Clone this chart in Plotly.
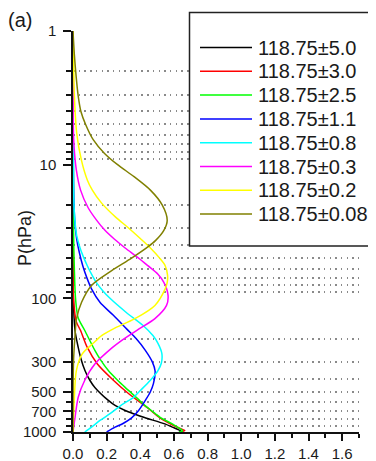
import plotly.graph_objects as go

# ---------------- data ----------------
labels = ["118.75±5.0", "118.75±3.0", "118.75±2.5", "118.75±1.1",
          "118.75±0.8", "118.75±0.3", "118.75±0.2", "118.75±0.08"]
colors = ["#000000", "#ff0000", "#00ff00", "#0000ff",
          "#00ffff", "#ff00ff", "#ffff00", "#808000"]

p_black = [1, 50, 100, 174, 233, 277, 347, 410, 464, 580, 632, 690, 730, 780, 870, 920, 960, 985, 1000]
w_black = [0, 0.0005, 0.002, 0.012, 0.031, 0.045, 0.071, 0.10, 0.13, 0.21, 0.25, 0.31, 0.36, 0.425, 0.546, 0.59, 0.625, 0.64, 0.63]

p_red = [1, 50, 100, 150, 174, 233, 310, 410, 522, 655, 780, 890, 945, 975, 1000]
w_red = [0, 0.0005, 0.003, 0.02, 0.045, 0.085, 0.145, 0.24, 0.335, 0.44, 0.515, 0.595, 0.64, 0.665, 0.635]

p_green = [1, 30, 60, 100, 139, 174, 245, 290, 347, 410, 464, 580, 615, 730, 780, 870, 920, 960, 985, 1000]
w_green = [0, 0.003, 0.008, 0.015, 0.03, 0.07, 0.13, 0.165, 0.21, 0.265, 0.31, 0.395, 0.415, 0.49, 0.52, 0.59, 0.62, 0.645, 0.65, 0.63]

p_blue = [1, 10, 20, 28, 36, 45, 57, 70, 85, 107, 134, 170, 200, 245, 300, 350, 435, 500, 580, 690, 780, 860, 920, 1000]
w_blue = [0, 0.002, 0.006, 0.012, 0.022, 0.037, 0.058, 0.082, 0.11, 0.16, 0.24, 0.32, 0.375, 0.43, 0.472, 0.488, 0.478, 0.46, 0.43, 0.39, 0.35, 0.30, 0.25, 0.20]

p_cyan = [1, 10, 18.5, 25, 34, 42, 50, 57, 66, 76, 88, 100, 127, 159, 190, 217, 258, 306, 347, 410, 490, 550, 632, 730, 820, 920, 1000]
w_cyan = [0, 0.002, 0.005, 0.01, 0.022, 0.042, 0.065, 0.085, 0.11, 0.138, 0.178, 0.22, 0.315, 0.415, 0.475, 0.505, 0.528, 0.525, 0.505, 0.46, 0.40, 0.36, 0.285, 0.22, 0.16, 0.11, 0.07]

p_magenta = [1, 3, 6.5, 11, 15.5, 21, 26, 31, 36, 42, 50, 57, 66, 76, 95, 113, 142, 170, 206, 233, 310, 410, 550, 780, 1000]
w_magenta = [0, 0.001, 0.004, 0.02, 0.045, 0.09, 0.14, 0.19, 0.245, 0.31, 0.39, 0.445, 0.505, 0.54, 0.565, 0.556, 0.487, 0.39, 0.29, 0.235, 0.13, 0.07, 0.031, 0.012, 0]

p_yellow = [1, 1.4, 3, 5.8, 9.25, 13, 15.5, 19.4, 24.8, 29.4, 35.7, 42, 50, 57, 67, 76, 85, 113, 142, 169, 190, 217, 260, 347, 553, 1000]
w_yellow = [0, 0.002, 0.008, 0.022, 0.05, 0.085, 0.115, 0.17, 0.255, 0.325, 0.40, 0.46, 0.515, 0.548, 0.562, 0.56, 0.548, 0.487, 0.368, 0.24, 0.17, 0.12, 0.055, 0.02, 0.008, 0]

p_olive = [1, 1.5, 2.14, 3, 4, 5, 6.5, 8.2, 10, 12.3, 15.5, 20, 26, 31, 37, 41, 50, 62, 80, 107, 142, 190, 300, 1000]
w_olive = [0, 0.008, 0.018, 0.03, 0.047, 0.075, 0.12, 0.186, 0.265, 0.363, 0.46, 0.53, 0.56, 0.54, 0.49, 0.447, 0.348, 0.23, 0.11, 0.051, 0.021, 0.012, 0.003, 0]

series_p = [p_black, p_red, p_green, p_blue, p_cyan, p_magenta, p_yellow, p_olive]
series_w = [w_black, w_red, w_green, w_blue, w_cyan, w_magenta, w_yellow, w_olive]

y_tickvals = [1, 10, 100, 300, 500, 700, 1000]
y_ticktext = ["1", "10", "100", "300", "500", "700", "1000"]
y_minorvals = [m * 10 ** k for k in range(3) for m in range(2, 10)]
x_tickvals = [0.0, 0.2, 0.4, 0.6, 0.8, 1.0, 1.2, 1.4, 1.6]

# ---------------- figure ----------------
# page body has an 8px margin: size the figure so it fills the 376x461 window
OFF = 8
W, H = 376 - OFF, 461 - OFF
PX0, PX1, PY0, PY1 = 73, 359, 31, 432       # plot area in window pixels
L, R, T, B = PX0 - OFF, W - (PX1 - OFF), PY0 - OFF, H - (PY1 - OFF)
pw, ph = PX1 - PX0, PY1 - PY0


def px_x(x):
    return (x - PX0) / pw


def px_y(y):
    return (PY1 - y) / ph


FONT = "Liberation Sans, Arial, sans-serif"
fig = go.Figure()
for p, w, name, c in zip(series_p, series_w, labels, colors):
    fig.add_trace(go.Scatter(x=w, y=p, mode="lines", name=name,
                             line=dict(color=c, width=1.5, shape="spline", smoothing=0.8),
                             showlegend=False))

shapes = []
annotations = []
# legend box (white, covers gridlines)
shapes.append(dict(type="rect", xref="paper", yref="paper",
                   x0=px_x(189.5), x1=px_x(384), y0=px_y(246), y1=px_y(12.5),
                   fillcolor="white", line=dict(color="#222222", width=1.5), layer="above"))
for i, (name, c) in enumerate(zip(labels, colors)):
    yy = 47.5 + i * 23.8
    shapes.append(dict(type="line", xref="paper", yref="paper",
                       x0=px_x(200), x1=px_x(252), y0=px_y(yy), y1=px_y(yy),
                       line=dict(color=c, width=1.5), layer="above"))
    annotations.append(dict(xref="paper", yref="paper", x=px_x(256), y=px_y(yy),
                            text=name, showarrow=False, xanchor="left", yanchor="middle",
                            font=dict(family=FONT, size=20, color="#1a1a1a")))

annotations.append(dict(xref="paper", yref="paper", x=px_x(6), y=px_y(20),
                        text="(a)", showarrow=False, xanchor="left", yanchor="middle",
                        font=dict(family=FONT, size=20, color="#1a1a1a")))
annotations.append(dict(xref="paper", yref="paper", x=px_x(24.5), y=px_y(238.5),
                        text="P(hPa)", showarrow=False, textangle=-90,
                        xanchor="center", yanchor="middle",
                        font=dict(family=FONT, size=18, color="#1a1a1a")))

fig.update_layout(
    width=W, height=H,
    margin=dict(l=L, r=R, t=T, b=B, pad=0, autoexpand=False),
    paper_bgcolor="white", plot_bgcolor="white",
    showlegend=False,
    shapes=shapes, annotations=annotations,
    font=dict(family=FONT, color="#1a1a1a"),
    xaxis=dict(range=[0, 1.7], tickmode="array", tickvals=x_tickvals,
               tickformat=".1f", ticks="outside", ticklen=7, tickwidth=1.5,
               tickcolor="#111", showline=True, linecolor="#111", linewidth=1.5,
               showgrid=False, zeroline=False, automargin=False,
               tickfont=dict(family=FONT, size=15, color="#1a1a1a"),
               ticklabelstandoff=0,
               minor=dict(dtick=0.1, tick0=0, ticks="outside", ticklen=4,
                          tickwidth=1.5, tickcolor="#111", showgrid=False)),
    yaxis=dict(type="log", range=[3, 0], tickmode="array", tickvals=y_tickvals,
               ticktext=y_ticktext, ticks="outside", ticklen=8, tickwidth=1.5,
               tickcolor="#111", showline=True, linecolor="#111", linewidth=1.5,
               showgrid=False, zeroline=False, automargin=False,
               tickfont=dict(family=FONT, size=15, color="#1a1a1a"),
               ticklabelstandoff=4,
               minor=dict(tickmode="array", tickvals=y_minorvals, ticks="outside",
                          ticklen=5, tickwidth=1.5, tickcolor="#111",
                          showgrid=True, gridcolor="#8a8a8a", gridwidth=1.5,
                          griddash="1.5px,4.2px")),
)

fig.write_html("out.html")
